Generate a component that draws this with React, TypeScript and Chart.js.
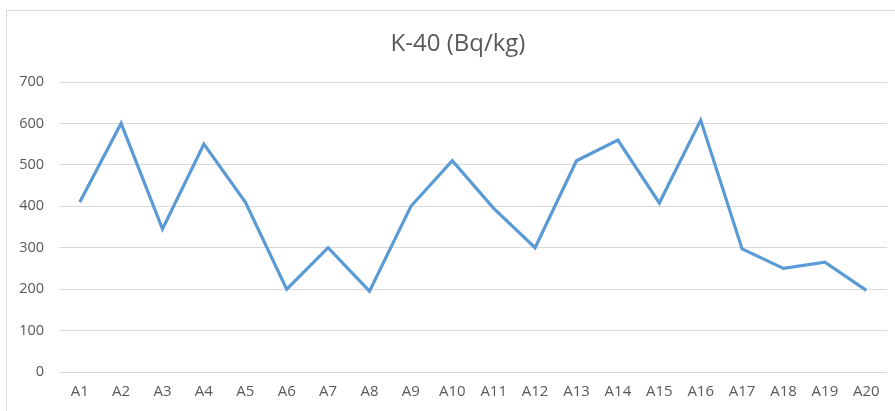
import React, { useEffect, useRef } from "react";
import { Chart, registerables } from "chart.js";

Chart.register(...registerables);

const categories = ["A1","A2","A3","A4","A5","A6","A7","A8","A9","A10","A11","A12","A13","A14","A15","A16","A17","A18","A19","A20"];
const k40Values = [410, 600, 345, 550, 410, 200, 300, 195, 400, 510, 395, 300, 510, 560, 408, 608, 297, 250, 265, 197];
const titleText = "K-40 (Bq/kg)";
const yMin = 0;
const yMax = 700;
const yStep = 100;

const FONT = "'Open Sans', 'Liberation Sans', sans-serif";

const framePlugin = {
  id: "frame",
  beforeDraw(chart: any) {
    const ctx = chart.ctx;
    ctx.save();
    ctx.fillStyle = "#ffffff";
    ctx.fillRect(0, 0, chart.width, chart.height);
    ctx.strokeStyle = "#d9d9d9";
    ctx.lineWidth = 1;
    ctx.strokeRect(6.5, 10.5, chart.width + 20, chart.height + 20);
    // title, centred on the outer frame (which extends past the right edge)
    ctx.fillStyle = "#595959";
    ctx.font = `normal 24px ${FONT}`;
    ctx.textAlign = "center";
    ctx.textBaseline = "middle";
    ctx.fillText(titleText, (6 + 910) / 2, 44);
    ctx.restore();
  },
};

export default function App() {
  const ref = useRef<HTMLCanvasElement | null>(null);
  useEffect(() => {
    if (!ref.current) return;
    const chart = new Chart(ref.current, {
      type: "line",
      data: {
        labels: categories,
        datasets: [
          {
            label: titleText,
            data: k40Values,
            borderColor: "#5B9BD5",
            backgroundColor: "#5B9BD5",
            borderWidth: 3.2,
            pointRadius: 0,
            pointHoverRadius: 0,
            tension: 0,
            fill: false,
          },
        ],
      },
      options: {
        animation: false,
        responsive: false,
        maintainAspectRatio: false,
        layout: { padding: { left: 0, right: 8, top: 82, bottom: 0 } },
        plugins: {
          legend: { display: false },
          tooltip: { enabled: false },
          title: { display: false },
        },
        scales: {
          x: {
            offset: true,
            grid: { display: false, drawTicks: false },
            border: { display: false },
            ticks: {
              color: "#595959",
              font: { family: FONT, size: 15 },
              padding: 11,
              maxRotation: 0,
              autoSkip: false,
            },
            afterFit(scale: any) {
              scale.height = 39;
            },
          },
          y: {
            min: yMin,
            max: yMax,
            grid: { color: "#d9d9d9", drawTicks: false },
            border: { display: false },
            ticks: {
              stepSize: yStep,
              color: "#595959",
              font: { family: FONT, size: 14.5 },
              padding: 15,
            },
            afterFit(scale: any) {
              scale.width = 59;
            },
          },
        },
      },
      plugins: [framePlugin],
    });
    return () => chart.destroy();
  }, []);
  return (
    <div style={{ position: "fixed", left: 0, top: 0, width: 895, height: 411, overflow: "hidden", background: "#fff" }}>
      <canvas ref={ref} width={895} height={411} style={{ display: "block", width: 895, height: 411 }} />
    </div>
  );
}
